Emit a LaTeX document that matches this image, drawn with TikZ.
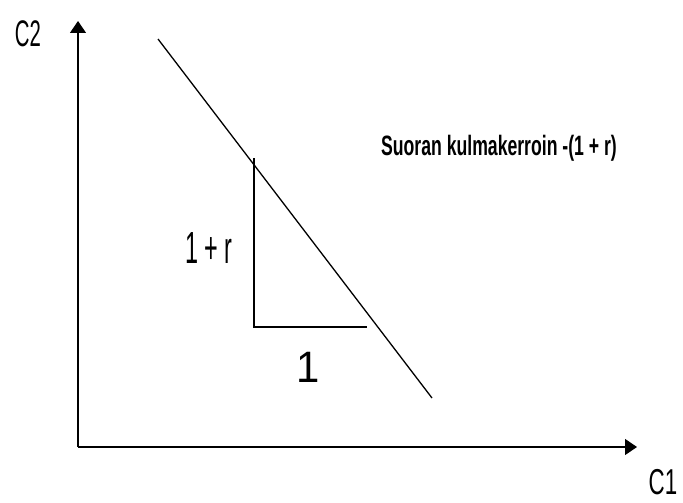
\documentclass[tikz,border=0pt]{standalone}
\usepackage{fontspec}
\setmainfont{Liberation Sans}
\usetikzlibrary{arrows.meta}
\begin{document}
\begin{tikzpicture}[x=1pt,y=-1pt,
  axis/.style={line width=1.3pt,-{Triangle[length=12pt,width=16pt]}},
  thin line/.style={line width=1.3pt},
  lbl/.style={inner sep=0pt,anchor=base},
  note/.style={inner sep=0pt,anchor=base,xscale=0.63,font=\bfseries\fontsize{28}{28}\selectfont}]
\useasboundingbox (0,0) rectangle (683,503);
\coordinate (O) at (78,447);
\coordinate (Ytop) at (78,21);
\coordinate (Xend) at (637,447);
\draw[axis] (O) -- (Ytop);
\draw[axis] (O) -- (Xend);
\coordinate (L1) at (158,39);
\coordinate (L2) at (432,398);
\draw[thin line] (L1) -- (L2);
\coordinate (T1) at (254,158);
\coordinate (T2) at (254,327);
\coordinate (T3) at (367,327);
\draw[thin line] (T1) -- (T2) -- (T3);
\node[lbl,xscale=0.55,font=\fontsize{37}{37}\selectfont] (c2) at (28,47) {C2};
\node[lbl,xscale=0.62,font=\fontsize{36}{36}\selectfont] (c1) at (663,494) {C1};
\node[lbl,xscale=0.52,font=\fontsize{45}{45}\selectfont] (onepr) at (209,263) {1 + r};
\node[lbl,xscale=0.95,font=\fontsize{44}{44}\selectfont] (one) at (308,382) {1};
\node[note] (s) at (499,155) {Suoran kulmakerroin -(1 + r)};
\end{tikzpicture}
\end{document}
